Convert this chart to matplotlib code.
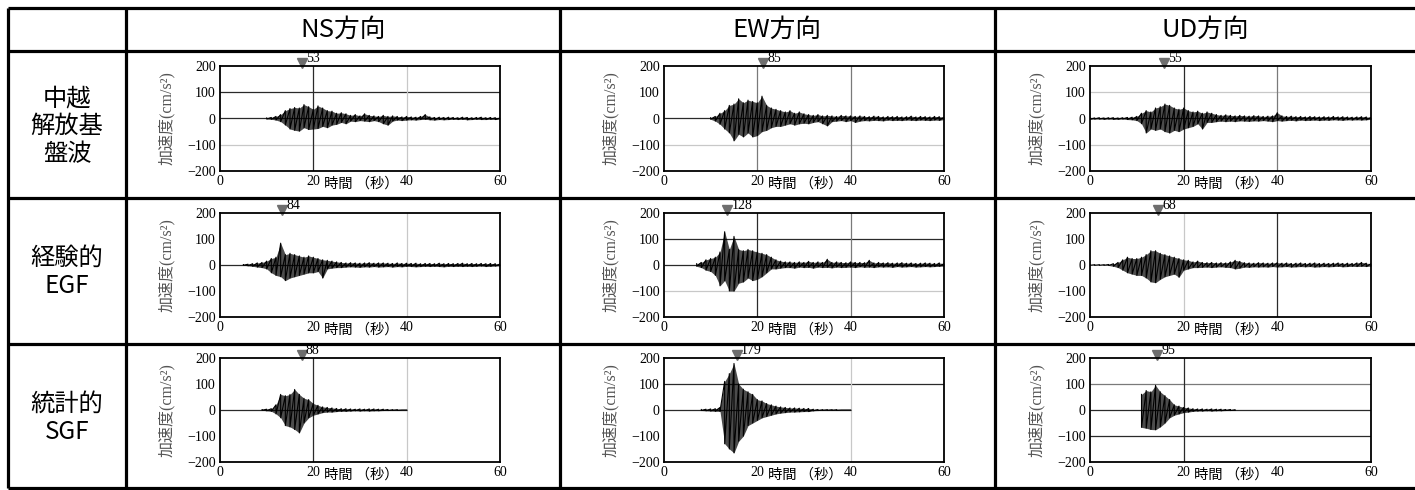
import numpy as np
import matplotlib.pyplot as plt

plt.rcParams['font.family'] = ['Noto Sans CJK JP', 'DejaVu Sans']

## Table text
col_titles = ['NS方向', 'EW方向', 'UD方向']
row_titles = ['中越\n解放基\n盤波', '経験的\nEGF', '統計的\nSGF']
x_ticks = [0, 20, 40, 60]
y_ticks = [-200, -100, 0, 100, 200]
ylab = '加速度(cm/s²)'
xlab = '時間 （秒）'

## Waveforms: per 1 s bin, max and min acceleration (cm/s2)
# row 1: 中越 解放基盤波
ns1_t0 = 10
ns1_hi = [2, 4, 8, 15, 30, 38, 42, 40, 53, 45, 35, 48, 40, 30, 28, 20, 22, 18, 12, 15,
          10, 18, 12, 10, 8, 12, 8, 10, 8, 6, 8, 6, 5, 8, 15, 6, 4, 5, 4, 5,
          4, 3, 5, 4, 3, 4, 5, 3, 4, 3, 2]
ns1_lo = [-2, -3, -6, -12, -25, -40, -45, -48, -35, -42, -40, -38, -30, -35, -25, -22, -15, -20, -10, -12,
          -8, -10, -12, -8, -12, -20, -25, -10, -6, -8, -6, -5, -6, -4, -3, -5, -6, -4, -5, -4,
          -3, -4, -3, -5, -4, -3, -4, -4, -3, -4, -2]
ew1_t0 = 10
ew1_hi = [3, 8, 20, 30, 50, 55, 75, 60, 70, 65, 60, 85, 50, 40, 35, 30, 25, 30, 20, 25,
          18, 15, 12, 15, 10, 12, 10, 8, 12, 10, 10, 8, 10, 8, 7, 9, 8, 6, 8, 7,
          8, 6, 7, 9, 6, 8, 7, 6, 8, 7, 5]
ew1_lo = [-3, -10, -22, -40, -55, -85, -60, -70, -55, -70, -65, -50, -45, -35, -30, -30, -25, -20, -25, -20,
          -18, -20, -15, -12, -20, -28, -12, -10, -8, -12, -8, -15, -10, -8, -9, -7, -8, -9, -6, -8,
          -7, -8, -6, -7, -8, -6, -7, -8, -6, -7, -4]
ud1_t0 = 0
ud1_hi = [3, 2, 3, 2, 3, 3, 2, 3, 4, 5, 8, 20, 30, 25, 40, 45, 55, 50, 40, 35,
          40, 30, 25, 28, 20, 25, 20, 15, 12, 14, 12, 10, 12, 10, 9, 11, 10, 8, 9, 10,
          22, 10, 8, 9, 7, 8, 6, 8, 7, 6, 7, 6, 8, 6, 7, 6, 5, 6, 7, 6, 4]
ud1_lo = [-3, -2, -2, -3, -2, -3, -3, -2, -4, -5, -8, -20, -55, -40, -45, -40, -50, -55, -45, -50,
          -40, -35, -30, -20, -40, -15, -15, -12, -10, -12, -10, -12, -9, -10, -11, -9, -10, -8, -10, -12,
          -8, -10, -8, -7, -9, -6, -8, -7, -6, -8, -6, -7, -5, -6, -7, -5, -6, -5, -6, -5, -3]
# row 2: 経験的 EGF
ns2_t0 = 5
ns2_hi = [1, 3, 5, 8, 10, 15, 25, 30, 84, 40, 45, 40, 35, 30, 35, 30, 25, 20, 18, 15,
          12, 10, 8, 9, 8, 7, 8, 9, 7, 8, 8, 7, 6, 8, 6, 7, 6, 7, 5, 6,
          6, 5, 7, 5, 6, 5, 6, 7, 5, 6, 5, 6, 5, 6, 5, 4]
ns2_lo = [-1, -3, -5, -8, -10, -15, -30, -40, -45, -60, -50, -45, -40, -35, -30, -30, -25, -50, -15, -12,
          -10, -10, -8, -7, -8, -9, -7, -8, -6, -8, -7, -6, -8, -6, -7, -5, -6, -7, -6, -5,
          -6, -5, -6, -7, -5, -6, -5, -6, -5, -6, -5, -4, -6, -5, -4, -3]
ew2_t0 = 7
ew2_hi = [5, 10, 20, 25, 30, 50, 128, 60, 110, 60, 55, 60, 55, 50, 45, 40, 30, 20, 15, 12,
          12, 10, 12, 10, 14, 10, 12, 10, 22, 10, 12, 10, 9, 12, 10, 10, 9, 18, 8, 10,
          8, 9, 7, 8, 9, 7, 8, 6, 7, 8, 7, 6, 8, 5]
ew2_lo = [-5, -10, -20, -25, -40, -80, -60, -100, -100, -70, -65, -50, -60, -55, -45, -30, -15, -15, -12, -10,
          -10, -12, -8, -10, -9, -12, -8, -10, -9, -11, -8, -10, -9, -8, -10, -7, -9, -8, -10, -7,
          -8, -7, -9, -6, -8, -7, -6, -8, -7, -6, -7, -6, -5, -4]
ud2_t0 = 0
ud2_hi = [1, 1, 1, 1, 2, 5, 10, 20, 30, 25, 25, 30, 40, 55, 55, 45, 40, 35, 30, 25,
          20, 18, 12, 15, 10, 9, 10, 8, 9, 8, 12, 18, 14, 9, 8, 7, 9, 8, 7, 8,
          9, 7, 8, 6, 7, 8, 6, 7, 8, 6, 7, 6, 7, 8, 6, 7, 6, 8, 10, 7, 5]
ud2_lo = [-1, -1, -1, -1, -2, -5, -10, -20, -30, -35, -40, -40, -50, -65, -68, -55, -45, -40, -35, -47,
          -20, -15, -10, -10, -9, -8, -10, -8, -7, -9, -10, -15, -12, -8, -9, -7, -8, -7, -8, -6,
          -8, -7, -6, -8, -7, -6, -7, -6, -8, -7, -6, -7, -6, -5, -7, -6, -5, -6, -5, -6, -4]
# row 3: 統計的 SGF
ns3_t0 = 9
ns3_hi = [1, 3, 5, 20, 60, 55, 60, 79, 60, 45, 40, 25, 18, 12, 10, 8, 6, 5, 5, 4,
          3, 4, 3, 4, 4, 3, 3, 2, 1, 1, 0, 0]
ns3_lo = [-1, -3, -5, -15, -30, -60, -65, -75, -88, -50, -30, -20, -15, -10, -8, -8, -6, -5, -5, -4,
          -3, -4, -3, -4, -3, -3, -2, -2, -1, -1, 0, 0]
ew3_t0 = 8
ew3_hi = [2, 3, 4, 5, 10, 110, 140, 179, 100, 80, 70, 60, 40, 35, 25, 20, 15, 12, 10, 8,
          8, 7, 6, 6, 3, 2, 1, 1, 1, 1, 0, 0, 0]
ew3_lo = [-2, -3, -4, -5, -5, -130, -150, -165, -120, -100, -60, -50, -40, -30, -25, -20, -15, -12, -10, -8,
          -8, -7, -6, -6, -3, -2, -1, -1, -1, -1, 0, 0, 0]
ud3_t0 = 11
ud3_hi = [60, 75, 70, 95, 70, 55, 40, 20, 15, 10, 8, 5, 4, 4, 3, 4, 3, 3, 2, 2, 1]
ud3_lo = [-67, -70, -75, -76, -65, -50, -30, -20, -15, -10, -8, -5, -4, -4, -3, -4, -3, -3, -2, -2, -1]

# peak markers (time, |max| label)
peak_t = [17.5, 21.2, 15.8, 13.3, 13.6, 14.5, 17.5, 15.6, 14.3]
peak_v = [53, 85, 55, 84, 128, 68, 88, 179, 95]

traces = [(ns1_t0, ns1_hi, ns1_lo), (ew1_t0, ew1_hi, ew1_lo), (ud1_t0, ud1_hi, ud1_lo),
          (ns2_t0, ns2_hi, ns2_lo), (ew2_t0, ew2_hi, ew2_lo), (ud2_t0, ud2_hi, ud2_lo),
          (ns3_t0, ns3_hi, ns3_lo), (ew3_t0, ew3_hi, ew3_lo), (ud3_t0, ud3_hi, ud3_lo)]

# grid lines of each panel: (value, shade)
gcol = {'d': '#2a2a2a', 'm': '#7a7a7a', 'l': '#c8c8c8'}
hgrid = [[(100, 'd'), (-100, 'l')], [(-100, 'l')], [(100, 'l'), (-100, 'l')],
         [], [(100, 'd'), (-100, 'l')], [],
         [], [(100, 'd')], [(100, 'm'), (-100, 'd')]]
vgrid = [[(20, 'd'), (40, 'l')], [(20, 'm'), (40, 'm')], [(20, 'd'), (40, 'm')],
         [(40, 'l')], [(20, 'd'), (40, 'm')], [(20, 'l'), (40, 'd')],
         [(20, 'd'), (40, 'l')], [(40, 'l')], [(20, 'd')]]
zero_span = [(0, 60), (0, 60), (0, 60), (0, 60), (0, 60), None, (0, 40), (0, 40), (0, 60)]

## Figure, pixel layout
W, H = 1415, 490
fig = plt.figure(figsize=(W / 100, H / 100), dpi=100)

bg = fig.add_axes([0, 0, 1, 1])
bg.set_xlim(0, W)
bg.set_ylim(H, 0)
bg.axis('off')

row_y = [8, 51, 198, 344, 488]
col_x = [8, 126, 560, 995]
for y in row_y:
    bg.plot([8, W], [y, y], color='black', lw=2.3, solid_capstyle='butt')
for x in col_x:
    bg.plot([x, x], [8, 488], color='black', lw=2.3, solid_capstyle='butt')

col_centers = [343, 777, 1205]
for c, txt in zip(col_centers, col_titles):
    bg.text(c, 30, txt, ha='center', va='center', fontsize=18.5)
row_centers = [126, 272, 418]
for r, txt in zip(row_centers, row_titles):
    bg.text(67, r, txt, ha='center', va='center', fontsize=17.5, linespacing=1.1)

ax_left = [220, 664, 1090]
ax_right = [500, 944, 1371]
ax_top = [66, 213, 358]
ax_bot = [171, 317, 462]

for k, (t0, hi, lo) in enumerate(traces):
    i, j = divmod(k, 3)
    l, r, t, b = ax_left[j], ax_right[j], ax_top[i], ax_bot[i]
    ax = fig.add_axes([l / W, 1 - b / H, (r - l) / W, (b - t) / H])
    ax.set_xlim(0, 60)
    ax.set_ylim(-200, 200)

    for v, s in hgrid[k]:
        ax.axhline(v, color=gcol[s], lw=0.9, zorder=1)
    for v, s in vgrid[k]:
        ax.axvline(v, color=gcol[s], lw=0.9, zorder=1)
    if zero_span[k] is not None:
        ax.hlines(0, zero_span[k][0], zero_span[k][1], color='#2a2a2a', lw=0.9, zorder=1)

    tt = t0 + np.arange(len(hi))
    ax.fill_between(tt, lo, hi, color='black', alpha=0.7, lw=0, zorder=2)
    xs = np.repeat(tt, 2)
    ys = np.column_stack([hi, lo]).ravel()
    ax.plot(xs, ys, color='black', lw=0.8, zorder=3)

    ax.set_xticks(x_ticks)
    ax.set_yticks(y_ticks)
    ax.tick_params(length=0, labelsize=10, pad=3)
    for lab in ax.get_xticklabels() + ax.get_yticklabels():
        lab.set_fontfamily('Liberation Serif')
    for sp in ax.spines.values():
        sp.set_linewidth(1.3)

    ax.set_ylabel(ylab, fontsize=11.5, color='#555555',
                  family=['Liberation Serif', 'Noto Sans CJK JP'])
    ax.yaxis.set_label_coords(-0.16, 0.5)
    ax.text(30.2, -222, xlab, ha='center', va='top', fontsize=10.3)

    ax.plot([peak_t[k]], [213], marker='v', ms=7.5, color='#6e6e6e', clip_on=False)
    ax.text(peak_t[k] + 0.9, 203, str(peak_v[k]), ha='left', va='bottom',
            fontsize=10, family='Liberation Serif')

fig.savefig('out.png', dpi=100)
